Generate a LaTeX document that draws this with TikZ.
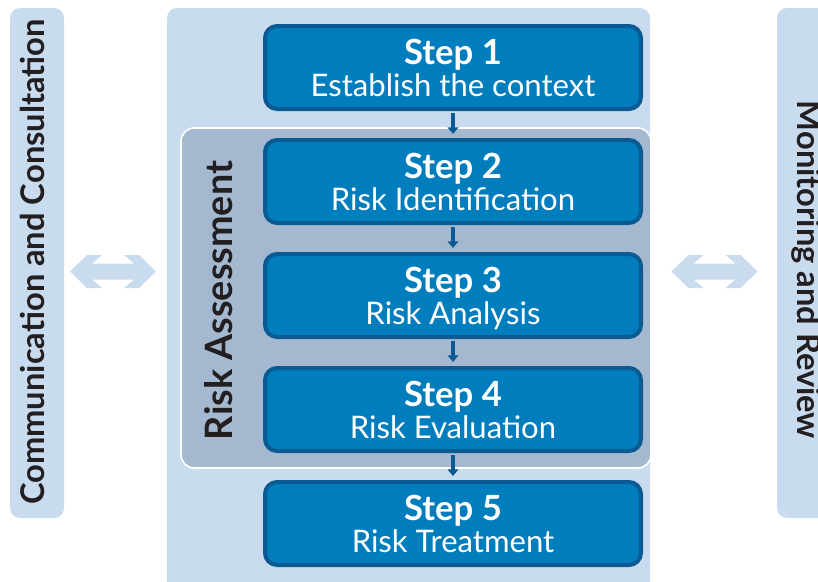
\documentclass[tikz,border=0pt]{standalone}
\usepackage{fontspec}
\setmainfont{Lato}
\usetikzlibrary{arrows.meta}
\definecolor{panelblue}{HTML}{C9DBEE}
\definecolor{assessgray}{HTML}{A4B9CF}
\definecolor{stepfill}{HTML}{007DBC}
\definecolor{stepline}{HTML}{0B5A91}
\definecolor{labelink}{HTML}{231F20}
\newcommand{\dblarrow}[1]{%
  \fill[panelblue] (#1) ++(-43,0) -- ++(17,-16.5) -- ++(15,0) -- ++(-10,8.5)
    -- ++(42,0) -- ++(-10,-8.5) -- ++(15,0) -- ++(17,16.5) -- ++(-17,16.5)
    -- ++(-15,0) -- ++(10,-8.5) -- ++(-42,0) -- ++(10,8.5) -- ++(-15,0) -- cycle;}
\newcommand{\steptitle}[1]{{\bfseries\fontsize{26}{24}\selectfont Step #1}}
\begin{document}
\begin{tikzpicture}[x=0.75pt,y=-0.75pt,
  stepbox/.style={draw=stepline, fill=stepfill, line width=3pt, rounded corners=9pt,
    minimum width=282pt, minimum height=62.25pt, inner sep=0pt, align=center,
    text=white, font=\fontsize{23.3}{24}\selectfont},
  sidelabel/.style={text=labelink, font=\fontsize{24.5}{24}\selectfont\bfseries,
    inner sep=0pt, anchor=base},
  flow/.style={stepline, line width=3pt, -{Triangle[width=8pt,length=5pt]},
    shorten <=1.5pt, shorten >=3pt}]
  \useasboundingbox (0,0) rectangle (818,582);
  \clip (0,0) rectangle (818,582);
  % side and centre panels
  \fill[panelblue, rounded corners=7.5pt] (10,8) rectangle (64,518);
  \fill[panelblue, rounded corners=7.5pt] (167,8) rectangle (650,592);
  \fill[panelblue, rounded corners=7.5pt] (777,8) rectangle (840,518);
  \filldraw[fill=assessgray, draw=white, line width=1.2pt, rounded corners=10pt]
    (181,128) rectangle (651,468);
  % two-way arrows
  \coordinate (lx) at (113,271.5);
  \coordinate (rx) at (714.5,271.5);
  \dblarrow{lx}
  \dblarrow{rx}
  % labels
  \node[sidelabel, rotate=90] (comm) at (45,262) {Communication and Consultation};
  \node[sidelabel, rotate=-90] (monit) at (797,270) {Monitoring and Review};
  \node[sidelabel, rotate=90, font=\fontsize{28.3}{28}\selectfont\bfseries] (assess)
    at (232,300.5) {Risk Assessment};
  % steps
  \node[stepbox] (s1) at (453,67.5) {\steptitle{1}\\ \smash{Establish the context}};
  \node[stepbox] (s2) at (453,181.5) {\steptitle{2}\\ \smash{Risk Identification}};
  \node[stepbox] (s3) at (453,295.5) {\steptitle{3}\\ \smash{Risk Analysis}};
  \node[stepbox] (s4) at (453,409.5) {\steptitle{4}\\ \smash{Risk Evaluation}};
  \node[stepbox] (s5) at (453,523.5) {\steptitle{5}\\ \smash{Risk Treatment}};
  \foreach \a/\b in {s1/s2,s2/s3,s3/s4,s4/s5}
    \draw[flow] (\a) -- (\b);
\end{tikzpicture}
\end{document}
